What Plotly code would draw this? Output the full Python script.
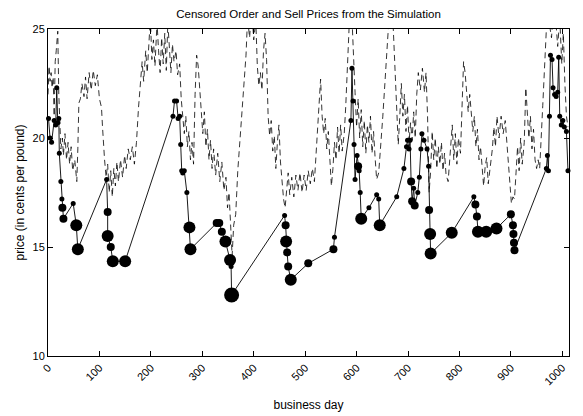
import plotly.graph_objects as go

# Censored order price (dashed line); values above 25 are clipped by the axis
order_days = [0, 2, 4, 6, 8, 10, 12, 14, 16, 19, 21, 23, 25, 28, 30, 33, 36, 39, 42, 45, 48, 52, 56, 58,
              60, 63, 66, 70, 73, 76, 80, 84, 88, 92, 96, 100, 104, 106, 108, 110, 113, 116, 119, 122,
              125, 128, 131, 134, 137, 141, 145, 149, 152, 156, 160, 164, 168, 172, 176, 180, 183, 186,
              190, 193, 196, 199, 202, 205, 208, 212, 215, 218, 221, 224, 227, 230, 233, 236, 239, 242,
              245, 249, 252, 256, 259, 262, 265, 268, 271, 274, 277, 280, 283, 286, 289, 292, 295, 298,
              301, 304, 307, 310, 313, 316, 319, 322, 326, 330, 334, 338, 342, 346, 349, 352, 355, 358,
              361, 365, 369, 373, 377, 381, 385, 388, 392, 396, 400, 404, 407, 410, 413, 416, 419, 422,
              425, 428, 431, 434, 437, 440, 443, 446, 449, 452, 455, 458, 461, 464, 467, 470, 474, 478,
              482, 486, 490, 494, 498, 502, 506, 510, 514, 518, 522, 525, 528, 530, 533, 536, 539, 542,
              545, 548, 551, 554, 557, 560, 563, 566, 569, 572, 576, 579, 582, 585, 588, 591, 594, 597,
              600, 603, 606, 609, 612, 615, 618, 621, 624, 627, 630, 633, 636, 639, 643, 647, 651, 655,
              659, 663, 667, 671, 675, 678, 681, 684, 687, 690, 693, 696, 699, 702, 705, 708, 711, 714,
              717, 720, 724, 728, 732, 735, 738, 741, 744, 747, 750, 753, 756, 759, 762, 765, 768, 771,
              774, 778, 782, 786, 789, 792, 795, 798, 802, 805, 808, 811, 814, 817, 820, 823, 826, 829,
              832, 835, 838, 841, 844, 847, 850, 853, 856, 860, 864, 867, 870, 873, 877, 881, 885, 889,
              893, 897, 901, 904, 907, 910, 913, 916, 919, 922, 926, 929, 932, 935, 938, 941, 944, 947,
              950, 953, 956, 959, 962, 965, 968, 971, 975, 979, 983, 987, 991, 995, 999, 1002, 1005,
              1008, 1011]
order_prices = [22.0, 23.3, 22.6, 23.0, 22.3, 22.8, 21.0, 23.5, 24.0, 24.9, 22.0, 20.3, 19.5, 20.0, 19.2,
                20.2, 19.0, 19.8, 18.8, 19.6, 18.5, 19.0, 18.0, 19.5,
                21.6, 21.8, 22.5, 21.9, 22.8, 21.8, 23.0, 22.2, 23.1, 22.4, 22.9, 21.8, 21.4, 20.5, 19.6,
                19.0, 18.2, 18.8, 17.5, 18.5,
                17.3, 18.6, 17.8, 18.9, 18.0, 19.0, 18.2, 19.2, 18.6, 19.5, 19.0, 19.6, 18.8, 19.8, 21.4,
                22.6, 23.5, 22.6,
                24.0, 23.0, 24.3, 25.5, 23.6, 24.5, 23.3, 25.3, 24.0, 23.0, 24.6, 23.4, 24.8, 23.1, 25.3,
                24.1, 23.0, 24.3,
                23.5, 24.0, 22.9, 23.4, 21.8, 21.0, 20.2, 21.0, 19.6, 20.3, 19.0, 19.8, 18.8, 22.0, 23.8,
                23.3, 22.3, 21.0,
                20.2, 21.2, 19.6, 20.4, 19.0, 19.9, 18.6, 19.5, 18.3, 19.3, 18.0, 18.9, 17.6, 18.2, 16.8,
                17.5, 16.0, 14.6,
                16.0, 16.5, 18.5, 19.8, 21.5, 22.8, 23.8, 25.5, 24.6, 26.0, 24.5, 25.4, 23.3, 22.4, 23.0,
                22.2, 24.0, 24.8,
                23.6, 21.0, 20.1, 20.8, 19.4, 20.1, 18.6, 19.8, 20.6, 18.9, 18.1, 17.2, 16.8, 17.5, 18.4,
                17.4, 18.2, 17.3,
                18.3, 17.6, 18.4, 17.5, 18.3, 17.6, 18.5, 17.9, 18.6, 18.0, 19.5, 20.6, 21.5, 22.7, 21.0,
                20.2, 20.9, 19.5,
                20.3, 18.8, 17.8, 18.6, 19.8, 19.0, 20.5, 19.3, 20.6, 19.4, 20.2, 21.5, 23.6, 24.8, 26.5,
                25.5, 23.5, 22.1,
                20.5, 21.8, 20.0, 21.3, 19.6, 20.8, 19.3, 20.6, 19.8, 21.0, 19.3, 20.3, 19.1, 18.1, 18.4,
                19.5, 21.0, 22.5,
                24.0, 25.5, 26.0, 25.2, 23.0, 21.0, 19.7, 21.0, 22.5, 21.0, 22.0, 20.3, 21.5, 19.8, 20.7,
                19.9, 21.2, 20.0,
                22.0, 23.0, 22.2, 23.2, 22.1, 23.0, 21.0, 17.5, 18.5, 20.3, 19.0, 20.0, 18.6, 19.6, 18.8,
                19.8, 18.5, 19.3,
                18.3, 18.0, 19.5, 20.6, 19.0, 20.2, 18.8, 20.0, 19.3, 21.0, 23.5, 23.0, 22.1, 21.2, 22.0,
                21.2, 20.3, 21.0,
                19.6, 20.4, 19.0, 19.6, 18.5, 17.8, 18.7, 19.1, 17.9, 18.6, 19.5, 20.5, 19.6, 21.0, 20.0,
                21.0, 20.2, 20.8,
                19.5, 18.0, 17.0, 17.3, 17.2, 18.4, 19.6, 18.5, 20.0, 18.8, 19.8, 22.3, 21.0, 20.0, 21.0,
                19.5, 20.4, 19.0,
                18.6, 19.0, 18.6, 19.8, 21.5, 23.0, 24.5, 26.0, 25.2, 24.6, 26.0, 25.5, 24.2, 25.5, 23.4,
                24.8, 22.5, 21.0, 20.5]

# Sell prices (solid line with markers); marker size class = S, M, L, XL
sell_days = [1, 4, 7, 12, 15, 17, 19, 21, 22, 25, 27, 28, 30, 49, 55, 58,
             114, 116, 116, 122, 126, 150,
             243, 246, 250, 253, 256, 258, 260, 262, 265, 270, 275, 277,
             328, 333, 338, 345, 354, 356, 357,
             460, 462, 463, 465, 467, 472, 506, 555, 557,
             589, 591, 593, 595, 597, 601, 603, 605, 607, 609, 624, 639, 643, 645,
             678, 692, 697, 699, 702, 704, 706, 708, 711, 713, 719, 722, 725, 727, 731, 737, 740,
             741, 743, 744, 785,
             828, 831, 834, 836, 852, 872, 900, 904, 905, 906, 907,
             969, 971, 973, 975, 977, 980, 982, 985, 988, 991, 993, 995, 998, 1001, 1004, 1008, 1011]
sell_prices = [20.9, 20.0, 19.8, 20.8, 20.6, 22.3, 20.7, 20.9, 19.3, 18.0, 17.2, 16.8, 16.3, 17.0, 16.0, 14.9,
               18.1, 16.6, 15.5, 15.0, 14.35, 14.35,
               21.0, 21.7, 21.7, 20.9, 21.0, 19.7, 18.5, 18.4, 18.5, 17.5, 15.9, 14.9,
               16.1, 16.1, 15.7, 15.25, 14.4, 14.1, 12.8,
               16.45, 16.0, 15.25, 14.75, 14.1, 13.5, 14.25, 14.9, 15.45,
               20.8, 23.2, 21.7, 19.7, 18.1, 19.2, 18.7, 18.5, 17.5, 16.3, 16.8, 17.4, 17.2, 16.0,
               17.3, 18.6, 19.6, 19.9, 19.5, 19.9, 18.0, 17.1, 17.7, 16.9, 17.5, 18.2, 19.5, 20.2, 19.9,
               19.5, 18.7,
               16.7, 15.6, 14.7, 15.65,
               17.3, 16.95, 16.4, 15.7, 15.7, 15.85, 16.5, 16.0, 15.6, 15.2, 14.85,
               18.6, 19.2, 18.5, 21.0, 23.8, 23.6, 22.3, 22.0, 21.9, 22.1, 23.7, 21.0, 20.6, 20.8, 20.5,
               20.3, 18.5]
sell_size_class = ["S", "S", "S", "S", "S", "S", "S", "S", "S", "S", "S", "M", "M", "S", "L", "L",
                   "S", "M", "L", "M", "L", "L",
                   "S", "S", "S", "S", "S", "S", "S", "S", "S", "S", "L", "L",
                   "M", "M", "M", "L", "L", "S", "XL",
                   "S", "M", "L", "M", "M", "L", "M", "M", "S",
                   "S", "S", "S", "S", "S", "S", "M", "S", "S", "L", "S", "S", "S", "L",
                   "S", "S", "S", "S", "S", "S", "M", "M", "S", "M", "S", "S", "S", "S", "S", "S", "S",
                   "M", "L", "L", "L",
                   "S", "M", "M", "L", "L", "L", "M", "M", "M", "M", "M",
                   "S", "S", "S", "S", "S", "S", "S", "S", "S", "S", "S", "S", "S", "S", "S", "S", "S"]
size_px = {"S": 5, "M": 8, "L": 12, "XL": 15}

x_ticks = [0, 100, 200, 300, 400, 500, 600, 700, 800, 900, 1000]
y_ticks = [10, 15, 20, 25]

FONT = "Liberation Sans, Arial, Helvetica, sans-serif"

fig = go.Figure()
fig.add_trace(go.Scatter(
    x=order_days, y=order_prices, mode="lines",
    line=dict(color="black", width=0.8, dash="6px,4px"),
    showlegend=False, hoverinfo="skip"))
fig.add_trace(go.Scatter(
    x=sell_days, y=sell_prices, mode="lines+markers",
    line=dict(color="black", width=0.9),
    marker=dict(color="black", opacity=1, size=[size_px[c] for c in sell_size_class],
                line=dict(width=0)),
    showlegend=False, cliponaxis=False))

axis_common = dict(
    showgrid=False, zeroline=False, showline=True, linecolor="black", linewidth=1,
    mirror="allticks", ticks="inside", ticklen=5, tickcolor="black", tickwidth=1,
    automargin=False,
    tickfont=dict(family=FONT, size=11, color="black"))

fig.update_layout(
    width=583, height=416,
    margin=dict(l=48, r=14, t=29, b=60),
    paper_bgcolor="white", plot_bgcolor="white",
    font=dict(family=FONT, size=11, color="black"),
    title=dict(text="Censored Order and Sell Prices from the Simulation",
               x=0.5, xanchor="center", xref="paper", y=0.967, yanchor="middle", yref="container",
               font=dict(family=FONT, size=11.5, color="black")),
    xaxis=dict(range=[0, 1013], tickvals=x_ticks, ticktext=[str(v) for v in x_ticks],
               tickangle=-45,
               title=dict(text="business day", standoff=14,
                          font=dict(family=FONT, size=12, color="black")),
               **axis_common),
    yaxis=dict(range=[10, 25], tickvals=y_ticks, ticktext=[str(v) for v in y_ticks],
               title=dict(text="price (in cents per pound)", standoff=5,
                          font=dict(family=FONT, size=12, color="black")),
               **axis_common),
)

fig.write_html("out.html",
               config={"displayModeBar": False},
               post_script="document.body.style.margin='0';document.body.style.padding='0';")
